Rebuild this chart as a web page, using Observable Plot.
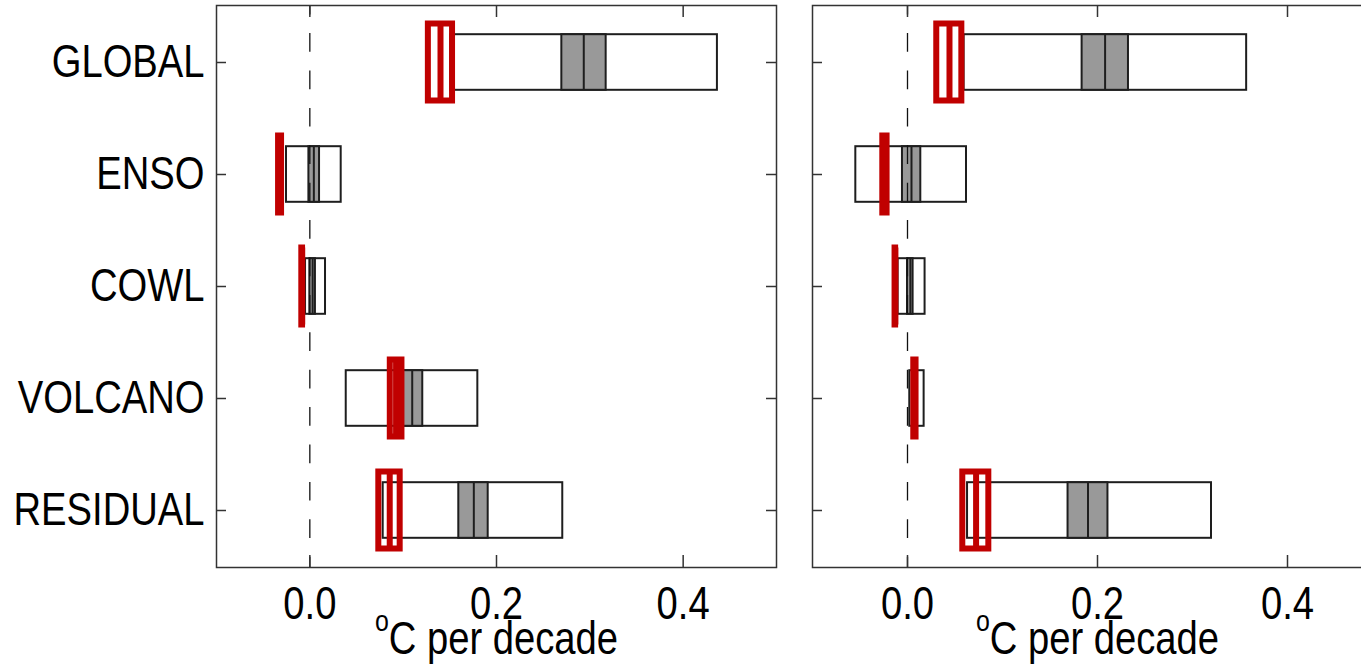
<!DOCTYPE html>
<html><head><meta charset="utf-8">
<script src="https://cdn.jsdelivr.net/npm/d3@7"></script>
<script src="https://cdn.jsdelivr.net/npm/@observablehq/plot@0.6"></script>
<style>
html,body{margin:0;padding:0;background:#fff;overflow:hidden;width:1361px;height:665px;}
#wrap{display:flex;flex-wrap:nowrap;width:1400px;}
#wrap svg{flex:none;display:block;}
</style></head><body><div id="wrap"></div>
<script>
const categories = ["GLOBAL", "ENSO", "COWL", "VOLCANO", "RESIDUAL"];
// left panel: model distribution (5th, 25th, median, 75th, 95th percentiles)
const leftP5   = [0.151, -0.025, -0.0046, 0.039, 0.0786];
const leftP25  = [0.270, -0.001, 0.000, 0.098, 0.1596];
const leftMed  = [0.2935, 0.0043, 0.003, 0.1097, 0.1757];
const leftP75  = [0.3175, 0.0104, 0.006, 0.121, 0.1911];
const leftP95  = [0.4367, 0.0336, 0.0168, 0.180, 0.271];
// left panel: observed (min, mid, max)
const leftObsMin = [0.127, -0.0335, -0.0086, 0.0862, 0.0739];
const leftObsMid = [0.140, -0.0319, -0.0082, 0.0924, 0.0856];
const leftObsMax = [0.1529, -0.0303, -0.0078, 0.0987, 0.0968];
// right panel
const rightP5   = [0.0596, -0.0544, -0.0099, 0.0024, 0.0632];
const rightP25  = [0.1838, -0.0053, 0.000, 0.006, 0.169];
const rightMed  = [0.208, 0.0042, 0.003, 0.008, 0.190];
const rightP75  = [0.2326, 0.014, 0.0059, 0.010, 0.211];
const rightP95  = [0.357, 0.0621, 0.0185, 0.0175, 0.320];
const rightObsMin = [0.0308, -0.026, -0.0131, 0.0066, 0.0582];
const rightObsMid = [0.0442, -0.0237, -0.0128, 0.0078, 0.0722];
const rightObsMax = [0.0572, -0.0215, -0.0125, 0.009, 0.0856];
const xTicks = [0.0, 0.2, 0.4];
const xDomain = [-0.1, 0.5];
const xLabel = "°C per decade";

const FONT = "'Liberation Sans', Arial, sans-serif";
const RED = "#c00000";
const INK = "#1e1e1e";
const SQUEEZE = 0.83;

function panel(p5, p25, med, p75, p95, omin, omid, omax, opts) {
  const rows = categories.map((c, i) => ({
    cat: c, p5: p5[i], p25: p25[i], med: med[i], p75: p75[i], p95: p95[i],
    omin: omin[i], omid: omid[i], omax: omax[i]
  }));
  const height = 665, marginTop = 5, marginBottom = 98;
  const ph = height - marginTop - marginBottom;
  const pw = opts.width - opts.marginLeft - opts.marginRight;
  const boxInset = 28.2, redInset = 17.5;
  return Plot.plot({
    width: opts.width, height, marginTop, marginBottom,
    marginLeft: opts.marginLeft, marginRight: opts.marginRight,
    style: {fontFamily: FONT, fontSize: "46px", color: "#000", background: "#fff", overflow: "visible"},
    x: {domain: xDomain},
    y: {domain: categories, padding: 0},
    marks: [
      Plot.barX(rows, {x1: "p5", x2: "p95", y: "cat", fill: "white", stroke: INK, strokeWidth: 2, insetTop: boxInset, insetBottom: boxInset}),
      Plot.barX(rows, {x1: "p25", x2: "p75", y: "cat", fill: "#999999", stroke: INK, strokeWidth: 2, insetTop: boxInset, insetBottom: boxInset}),
      Plot.tickX(rows, {x: "med", y: "cat", stroke: INK, strokeWidth: 2, insetTop: boxInset, insetBottom: boxInset}),
      Plot.ruleX([0], {stroke: "#111", strokeWidth: 1.3, strokeDasharray: "18.7,18.7", strokeDashoffset: 9.3}),
      Plot.barX(rows, {x1: "omin", x2: "omax", y: "cat", fill: "none", stroke: RED, strokeWidth: 6, insetTop: redInset, insetBottom: redInset}),
      Plot.tickX(rows, {x: "omid", y: "cat", stroke: RED, strokeWidth: 6, insetTop: redInset, insetBottom: redInset}),
      Plot.frame({stroke: "#333", strokeWidth: 1.5}),
      // inward x ticks (bottom and top)
      Plot.tickX(xTicks, {x: d => d, stroke: "#333", strokeWidth: 1.5, insetTop: ph - 12}),
      Plot.tickX(xTicks, {x: d => d, stroke: "#333", strokeWidth: 1.5, insetBottom: ph - 12}),
      // inward y ticks (left and right)
      Plot.tickY(categories, {y: d => d, stroke: "#333", strokeWidth: 1.5, insetRight: pw - 10}),
      Plot.tickY(categories, {y: d => d, stroke: "#333", strokeWidth: 1.5, insetLeft: pw - 10}),
      Plot.axisX(xTicks, {tickSize: 0, tickPadding: 19, tickFormat: d3.format(".1f"), label: null, fill: "#000"}),
      opts.showY ? Plot.axisY({tickSize: 0, tickPadding: 12, label: null, fill: "#000"}) : Plot.axisY({tickSize: 0, tickFormat: () => "", label: null}),
      Plot.text([xLabel], {frameAnchor: "bottom", dy: 78, text: d => d, fill: "#000", fontSize: 46})
    ]
  });
}

const left = panel(leftP5, leftP25, leftMed, leftP75, leftP95, leftObsMin, leftObsMid, leftObsMax,
  {width: 790, marginLeft: 216, marginRight: 14, showY: true});
const right = panel(rightP5, rightP25, rightMed, rightP75, rightP95, rightObsMin, rightObsMid, rightObsMax,
  {width: 602, marginLeft: 22, marginRight: 10, showY: false});

for (const svg of [left, right]) {
  d3.select(svg).selectAll("text").each(function() {
    if (this.textContent === xLabel) {
      const sel = d3.select(this);
      sel.text(null);
      sel.append("tspan").attr("font-size", "30px").attr("dy", "-0.5em").text("o");
      sel.append("tspan").attr("dy", "0.5em").text("C per decade");
    }
  });
}
document.getElementById("wrap").append(left, right);

// the reference lettering is tall and narrow: compress glyphs horizontally
for (const svg of [left, right]) {
  d3.select(svg).selectAll("text").each(function() {
    if (!this.textContent) return;
    const w = this.getComputedTextLength();
    if (w > 0) {
      this.setAttribute("textLength", (w * SQUEEZE).toFixed(1));
      this.setAttribute("lengthAdjust", "spacingAndGlyphs");
    }
  });
}
</script>
</body></html>
